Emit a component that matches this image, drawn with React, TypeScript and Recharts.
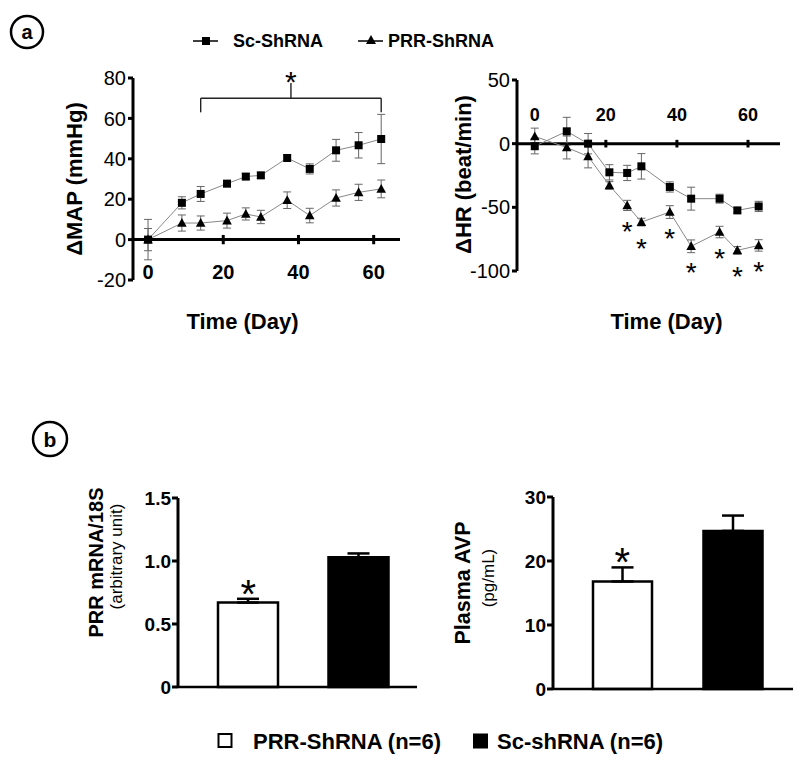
import React from 'react';
import {
  ComposedChart,
  Line,
  Bar,
  Cell,
  XAxis,
  YAxis,
  ErrorBar,
  ReferenceLine,
  ReferenceDot,
} from 'recharts';

const FONT = '"Liberation Sans", Arial, Helvetica, sans-serif';

// ---------- Panel a : series names ----------
const seriesNames = ['Sc-ShRNA', 'PRR-ShRNA'];

// ---------- Panel a : ΔMAP ----------
const mapDays = [0, 9, 14, 21, 26, 30, 37, 43, 50, 56, 62];
const mapSc = [0, 18.2, 22.6, 27.7, 31.2, 31.8, 40.4, 35, 44.2, 46.7, 49.8];
const mapScErr = [5.5, 3, 3.7, 1.5, 1.5, 1.5, 1.5, 2.5, 5.4, 6.3, 12.2];
const mapPrr = [0, 8.2, 8.2, 9.4, 12.7, 11.2, 19.5, 11.9, 20.6, 23.4, 25.1];
const mapPrrErr = [10, 4, 3.5, 3.7, 3, 3.3, 4.1, 3.6, 4, 4, 4.4];
const mapYTicks = [-20, 0, 20, 40, 60, 80];
const dayTicks = [0, 20, 40, 60];
const mapBracket = { from: 14, to: 62, level: 70, foot: 63, mid: 38, peak: 77.5 };

// ---------- Panel a : ΔHR ----------
const hrDays = [0, 9, 15, 21, 26, 30, 38, 44, 52, 57, 63];
const hrSc = [-2, 9.7, 0, -22.5, -23, -17.8, -34, -43.2, -43.2, -52.4, -49.3];
const hrScErr = [6, 11, 8, 6, 6, 10, 4, 9, 3.5, 2, 4];
const hrPrr = [5.7, -3, -10, -32.8, -48.5, -61.6, -53.7, -80.6, -69.4, -83.8, -79.9];
const hrPrrErr = [6.5, 9, 9, 3, 4, 3, 5, 5, 4.5, 3, 4.5];
const hrPrrSig = [false, false, false, false, true, true, true, true, true, true, true];
const hrYTicks = [-100, -50, 0, 50];

// ---------- Panel b ----------
const groups = ['PRR-ShRNA (n=6)', 'Sc-shRNA (n=6)'];
const groupFill = ['#ffffff', '#000000'];
const groupSig = [true, false];
const mrna = [0.67, 1.03];
const mrnaErr = [0.03, 0.03];
const mrnaTicks = [0, 0.5, 1.0, 1.5];
const avp = [16.8, 24.7];
const avpErr = [2.2, 2.4];
const avpTicks = [0, 10, 20, 30];

const mapData = mapDays.map((d, i) => ({
  day: d,
  sc: mapSc[i],
  scErr: mapScErr[i],
  prr: mapPrr[i],
  prrErr: mapPrrErr[i],
}));
const hrData = hrDays.map((d, i) => ({
  day: d,
  sc: hrSc[i],
  scErr: hrScErr[i],
  prr: hrPrr[i],
  prrErr: hrPrrErr[i],
}));
const hrStars = hrData.filter((_, i) => hrPrrSig[i]);
const mrnaData = groups.map((g, i) => ({ group: g, value: mrna[i], err: [0, mrnaErr[i]] }));
const avpData = groups.map((g, i) => ({ group: g, value: avp[i], err: [0, avpErr[i]] }));
const mrnaStars = groups
  .map((g, i) => ({ group: g, top: mrna[i] + mrnaErr[i], sig: groupSig[i] }))
  .filter((s) => s.sig);
const avpStars = groups
  .map((g, i) => ({ group: g, top: avp[i] + avpErr[i], sig: groupSig[i] }))
  .filter((s) => s.sig);

// ---------- helpers ----------
const SquareDot = (p: any) => {
  if (p.cx == null || p.cy == null) return <g key={`s${p.index}`} />;
  return <rect key={`s${p.index}`} x={p.cx - 4} y={p.cy - 4} width={8} height={8} fill="#000" />;
};
const TriDot = (p: any) => {
  if (p.cx == null || p.cy == null) return <g key={`t${p.index}`} />;
  const { cx, cy } = p;
  return (
    <polygon
      key={`t${p.index}`}
      points={`${cx},${cy - 5} ${cx + 4.8},${cy + 3.8} ${cx - 4.8},${cy + 3.8}`}
      fill="#000"
    />
  );
};

const DayTick = (props: any) => {
  const { x, y, payload, offsetY, fs } = props;
  return (
    <text
      x={x}
      y={y + offsetY}
      textAnchor="middle"
      dominantBaseline="central"
      fontFamily={FONT}
      fontWeight="bold"
      fontSize={fs}
      fill="#000"
    >
      {payload.value}
    </text>
  );
};

const XTitle = (props: any) => {
  const { viewBox, text, dx = 0, dy = 0 } = props;
  const vb = viewBox || { x: 0, y: 0, width: 0, height: 0 };
  return (
    <text
      x={vb.x + vb.width / 2 + dx}
      y={vb.y + dy}
      textAnchor="middle"
      dominantBaseline="central"
      fontFamily={FONT}
      fontWeight="bold"
      fontSize={22}
      fill="#000"
    >
      {text}
    </text>
  );
};

const YTitle = (props: any) => {
  const { viewBox, lines } = props;
  const vb = viewBox || { x: 0, y: 0, width: 0, height: 0 };
  const cy0 = vb.y + vb.height / 2;
  return (
    <g>
      {lines.map((l: any, i: number) => {
        const cx = vb.x + l.dx;
        const cy = cy0 + l.dy;
        return (
          <text
            key={i}
            x={cx}
            y={cy}
            transform={`rotate(-90 ${cx} ${cy})`}
            textAnchor="middle"
            dominantBaseline="central"
            fontFamily={FONT}
            fontWeight={l.weight}
            fontSize={l.size}
            fill="#000"
          >
            {l.text}
          </text>
        );
      })}
    </g>
  );
};

const starShape = (fs: number, shift: number) => (p: any) => (
  <text
    x={p.cx}
    y={p.cy + shift}
    textAnchor="middle"
    fontFamily={FONT}
    fontSize={fs}
    fill="#000"
  >
    *
  </text>
);

const axisStroke = { stroke: '#000', strokeWidth: 3 };

export default function App() {
  return (
    <div
      style={{
        position: 'absolute',
        left: 0,
        top: 0,
        width: 800,
        height: 779,
        background: '#fff',
        fontFamily: FONT,
      }}
    >
      {/* decorations: panel letters and legends */}
      <svg
        width={800}
        height={779}
        style={{ position: 'absolute', left: 0, top: 0 }}
      >
        <circle cx={27} cy={32} r={16} fill="none" stroke="#000" strokeWidth={2.5} />
        <text x={27} y={32} textAnchor="middle" dominantBaseline="central" fontFamily={FONT} fontWeight="bold" fontSize={20}>
          a
        </text>
        <circle cx={50} cy={439} r={17} fill="none" stroke="#000" strokeWidth={2.5} />
        <text x={50} y={439} textAnchor="middle" dominantBaseline="central" fontFamily={FONT} fontWeight="bold" fontSize={21}>
          b
        </text>

        {/* top legend */}
        <line x1={193} x2={218} y1={41} y2={41} stroke="#000" strokeWidth={1.5} />
        <rect x={202} y={37} width={8} height={8} fill="#000" />
        <text x={233} y={41} dominantBaseline="central" fontFamily={FONT} fontWeight="bold" fontSize={18}>
          {seriesNames[0]}
        </text>
        <line x1={358} x2={383} y1={41} y2={41} stroke="#000" strokeWidth={1.5} />
        <polygon points="371,35 376,44 366,44" fill="#000" />
        <text x={388} y={41} dominantBaseline="central" fontFamily={FONT} fontWeight="bold" fontSize={18}>
          {seriesNames[1]}
        </text>

        {/* bottom legend */}
        <rect x={218.5} y={734} width={13} height={13} fill="#fff" stroke="#000" strokeWidth={2} />
        <text x={253} y={741} dominantBaseline="central" fontFamily={FONT} fontWeight="bold" fontSize={22}>
          {groups[0]}
        </text>
        <rect x={473} y={733.5} width={15} height={15} fill="#000" />
        <text x={497} y={741} dominantBaseline="central" fontFamily={FONT} fontWeight="bold" fontSize={22}>
          {groups[1]}
        </text>
      </svg>

      {/* ΔMAP */}
      <div style={{ position: 'absolute', left: 0, top: 48 }}>
        <ComposedChart
          width={410}
          height={300}
          data={mapData}
          margin={{ top: 30, right: 10, bottom: 38, left: 0 }}
        >
          <XAxis
            dataKey="day"
            type="number"
            domain={[-4, 67]}
            ticks={dayTicks}
            allowDataOverflow
            axisLine={false}
            tickLine={false}
            tickSize={0}
            tickMargin={0}
            height={30}
            tick={<DayTick offsetY={-8} fs={20} />}
            label={<XTitle text="Time (Day)" dx={-24} dy={41} />}
          />
          <YAxis
            type="number"
            domain={[-20, 80]}
            ticks={mapYTicks}
            width={133}
            axisLine={axisStroke}
            tickLine={axisStroke}
            tickSize={5}
            tickMargin={2}
            tick={{ fill: '#000', fontSize: 20, fontFamily: FONT }}
            label={<YTitle lines={[{ text: 'ΔMAP (mmHg)', dx: 74, dy: 0, size: 22, weight: 'bold' }]} />}
          />
          <ReferenceLine y={0} stroke="#000" strokeWidth={3} />
          {dayTicks.slice(1).map((t) => (
            <ReferenceLine
              key={`mt${t}`}
              segment={[{ x: t, y: -2.3 }, { x: t, y: 2.3 }]}
              stroke="#000"
              strokeWidth={3}
            />
          ))}
          <ReferenceLine
            segment={[{ x: mapBracket.from, y: mapBracket.level }, { x: mapBracket.to, y: mapBracket.level }]}
            stroke="#222"
            strokeWidth={1.4}
          />
          <ReferenceLine
            segment={[{ x: mapBracket.from, y: mapBracket.foot }, { x: mapBracket.from, y: mapBracket.level }]}
            stroke="#222"
            strokeWidth={1.4}
          />
          <ReferenceLine
            segment={[{ x: mapBracket.to, y: mapBracket.foot }, { x: mapBracket.to, y: mapBracket.level }]}
            stroke="#222"
            strokeWidth={1.4}
          />
          <ReferenceLine
            segment={[{ x: mapBracket.mid, y: mapBracket.level }, { x: mapBracket.mid, y: mapBracket.peak }]}
            stroke="#222"
            strokeWidth={1.4}
          />
          <ReferenceDot
            x={mapBracket.mid}
            y={mapBracket.peak}
            r={0}
            ifOverflow="visible"
            shape={starShape(30, 9)}
          />
          <Line
            dataKey="prr"
            stroke="#888"
            strokeWidth={1}
            dot={TriDot}
            activeDot={false}
            isAnimationActive={false}
          >
            <ErrorBar dataKey="prrErr" width={4} stroke="#666" strokeWidth={1} direction="y" />
          </Line>
          <Line
            dataKey="sc"
            stroke="#888"
            strokeWidth={1}
            dot={SquareDot}
            activeDot={false}
            isAnimationActive={false}
          >
            <ErrorBar dataKey="scErr" width={4} stroke="#666" strokeWidth={1} direction="y" />
          </Line>
        </ComposedChart>
      </div>

      {/* ΔHR */}
      <div style={{ position: 'absolute', left: 410, top: 48 }}>
        <ComposedChart
          width={390}
          height={300}
          data={hrData}
          margin={{ top: 30, right: 20, bottom: 0, left: 0 }}
        >
          <XAxis
            xAxisId="top"
            orientation="top"
            dataKey="day"
            type="number"
            domain={[-5, 69]}
            ticks={dayTicks}
            allowDataOverflow
            axisLine={false}
            tickLine={false}
            tickSize={0}
            tickMargin={0}
            height={2}
            tick={<DayTick offsetY={35} fs={18} />}
          />
          <XAxis
            xAxisId="bottom"
            orientation="bottom"
            dataKey="day"
            type="number"
            domain={[-5, 69]}
            allowDataOverflow
            axisLine={false}
            tickLine={false}
            tick={false}
            height={77}
            label={<XTitle text="Time (Day)" dx={18} dy={50} />}
          />
          <YAxis
            type="number"
            domain={[-100, 50]}
            ticks={hrYTicks}
            width={107}
            axisLine={axisStroke}
            tickLine={axisStroke}
            tickSize={5}
            tickMargin={2}
            tick={{ fill: '#000', fontSize: 20, fontFamily: FONT }}
            label={<YTitle lines={[{ text: 'ΔHR (beat/min)', dx: 53, dy: -1, size: 22, weight: 'bold' }]} />}
          />
          <ReferenceLine xAxisId="top" y={0} stroke="#000" strokeWidth={3} />
          {dayTicks.slice(1).map((t) => (
            <ReferenceLine
              key={`ht${t}`}
              xAxisId="top"
              segment={[{ x: t, y: -3 }, { x: t, y: 3 }]}
              stroke="#000"
              strokeWidth={3}
            />
          ))}
          <Line
            xAxisId="top"
            dataKey="sc"
            stroke="#888"
            strokeWidth={1}
            dot={SquareDot}
            activeDot={false}
            isAnimationActive={false}
          >
            <ErrorBar dataKey="scErr" width={4} stroke="#666" strokeWidth={1} direction="y" />
          </Line>
          <Line
            xAxisId="top"
            dataKey="prr"
            stroke="#888"
            strokeWidth={1}
            dot={TriDot}
            activeDot={false}
            isAnimationActive={false}
          >
            <ErrorBar dataKey="prrErr" width={4} stroke="#666" strokeWidth={1} direction="y" />
          </Line>
          {hrStars.map((s) => (
            <ReferenceDot
              key={`hs${s.day}`}
              xAxisId="top"
              x={s.day}
              y={s.prr}
              r={0}
              ifOverflow="visible"
              shape={starShape(28, 36)}
            />
          ))}
        </ComposedChart>
      </div>

      {/* PRR mRNA */}
      <div style={{ position: 'absolute', left: 0, top: 470 }}>
        <ComposedChart
          width={425}
          height={230}
          data={mrnaData}
          margin={{ top: 28, right: 8, bottom: 3, left: 0 }}
        >
          <XAxis
            dataKey="group"
            type="category"
            tick={false}
            tickLine={false}
            axisLine={{ stroke: '#000', strokeWidth: 2.5 }}
            height={10}
            padding={{ left: 15, right: 3 }}
          />
          <YAxis
            type="number"
            domain={[0, 1.5]}
            ticks={mrnaTicks}
            width={178}
            axisLine={axisStroke}
            tickLine={axisStroke}
            tickSize={6}
            tickMargin={1}
            tickFormatter={(v: number) => (v === 0 ? '0' : v.toFixed(1))}
            tick={{ fill: '#000', fontSize: 19, fontWeight: 'bold', fontFamily: FONT }}
            label={
              <YTitle
                lines={[
                  { text: 'PRR mRNA/18S', dx: 96, dy: -30, size: 20, weight: 'bold' },
                  { text: '(arbitrary unit)', dx: 116, dy: -36, size: 17, weight: 'normal' },
                ]}
              />
            }
          />
          <Bar dataKey="value" barSize={60} stroke="#000" strokeWidth={2.5} isAnimationActive={false}>
            {mrnaData.map((d, i) => (
              <Cell key={d.group} fill={groupFill[i]} />
            ))}
            <ErrorBar dataKey="err" width={11} stroke="#000" strokeWidth={2.5} direction="y" />
          </Bar>
          {mrnaStars.map((s) => (
            <ReferenceDot
              key={`ms${s.group}`}
              x={s.group}
              y={s.top}
              r={0}
              ifOverflow="visible"
              shape={starShape(40, 9)}
            />
          ))}
        </ComposedChart>
      </div>

      {/* Plasma AVP */}
      <div style={{ position: 'absolute', left: 420, top: 470 }}>
        <ComposedChart
          width={380}
          height={230}
          data={avpData}
          margin={{ top: 27, right: 7, bottom: 1, left: 0 }}
        >
          <XAxis
            dataKey="group"
            type="category"
            tick={false}
            tickLine={false}
            axisLine={{ stroke: '#000', strokeWidth: 2.5 }}
            height={10}
            padding={{ left: 14, right: 5 }}
          />
          <YAxis
            type="number"
            domain={[0, 30]}
            ticks={avpTicks}
            width={133}
            axisLine={axisStroke}
            tickLine={axisStroke}
            tickSize={6}
            tickMargin={1}
            tick={{ fill: '#000', fontSize: 19, fontWeight: 'bold', fontFamily: FONT }}
            label={
              <YTitle
                lines={[
                  { text: 'Plasma AVP', dx: 43, dy: -10, size: 21.5, weight: 'bold' },
                  { text: '(pg/mL)', dx: 68, dy: -15, size: 17, weight: 'normal' },
                ]}
              />
            }
          />
          <Bar dataKey="value" barSize={59} stroke="#000" strokeWidth={2.5} isAnimationActive={false}>
            {avpData.map((d, i) => (
              <Cell key={d.group} fill={groupFill[i]} />
            ))}
            <ErrorBar dataKey="err" width={11} stroke="#000" strokeWidth={2.5} direction="y" />
          </Bar>
          {avpStars.map((s) => (
            <ReferenceDot
              key={`as${s.group}`}
              x={s.group}
              y={s.top}
              r={0}
              ifOverflow="visible"
              shape={starShape(40, 9)}
            />
          ))}
        </ComposedChart>
      </div>
    </div>
  );
}
